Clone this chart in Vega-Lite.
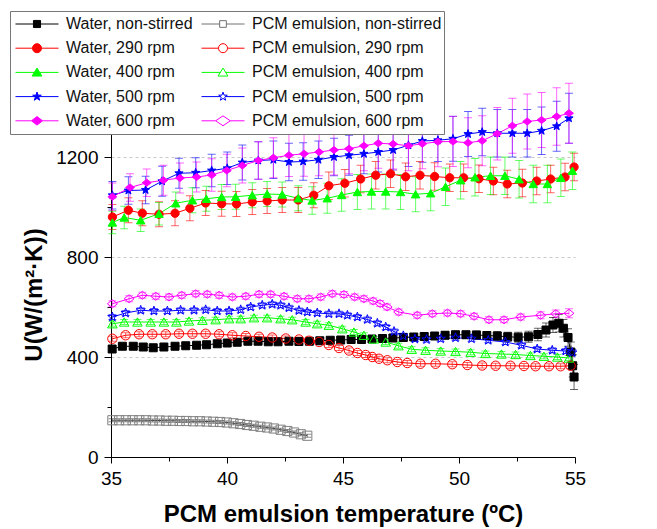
{
"$schema": "https://vega.github.io/schema/vega-lite/v6.json",
"width": 464, "height": 325,
"autosize": {"type": "none"},
"padding": {"left": 111, "top": 132, "right": 82, "bottom": 72},
"background": "white",
"config": {"view": {"stroke": null}, "font": "Liberation Sans"},
"data": {"values": [
{"s":"Water, non-stirred","T":35.05,"U":432,"e":8},{"s":"Water, non-stirred","T":35.49,"U":443,"e":8},{"s":"Water, non-stirred","T":35.96,"U":443,"e":8},{"s":"Water, non-stirred","T":36.39,"U":440,"e":8},{"s":"Water, non-stirred","T":36.82,"U":437,"e":8},{"s":"Water, non-stirred","T":37.28,"U":440,"e":8},{"s":"Water, non-stirred","T":37.76,"U":443,"e":8},{"s":"Water, non-stirred","T":38.22,"U":445,"e":8},{"s":"Water, non-stirred","T":38.69,"U":447,"e":8},{"s":"Water, non-stirred","T":39.12,"U":449,"e":8},{"s":"Water, non-stirred","T":39.58,"U":453,"e":8},{"s":"Water, non-stirred","T":40.01,"U":456,"e":8},{"s":"Water, non-stirred","T":40.44,"U":459,"e":8},{"s":"Water, non-stirred","T":40.9,"U":463,"e":8},{"s":"Water, non-stirred","T":41.34,"U":463,"e":8},{"s":"Water, non-stirred","T":41.78,"U":461,"e":8},{"s":"Water, non-stirred","T":42.2,"U":461,"e":8},{"s":"Water, non-stirred","T":42.67,"U":463,"e":8},{"s":"Water, non-stirred","T":43.1,"U":462,"e":8},{"s":"Water, non-stirred","T":43.55,"U":463,"e":8},{"s":"Water, non-stirred","T":44.0,"U":465,"e":8},{"s":"Water, non-stirred","T":44.45,"U":467,"e":8},{"s":"Water, non-stirred","T":44.9,"U":468,"e":8},{"s":"Water, non-stirred","T":45.35,"U":470,"e":10},{"s":"Water, non-stirred","T":45.8,"U":470,"e":10},{"s":"Water, non-stirred","T":46.25,"U":472,"e":10},{"s":"Water, non-stirred","T":46.7,"U":474,"e":10},{"s":"Water, non-stirred","T":47.15,"U":476,"e":12},{"s":"Water, non-stirred","T":47.6,"U":478,"e":12},{"s":"Water, non-stirred","T":48.05,"U":480,"e":12},{"s":"Water, non-stirred","T":48.5,"U":482,"e":12},{"s":"Water, non-stirred","T":48.95,"U":484,"e":12},{"s":"Water, non-stirred","T":49.4,"U":487,"e":14},{"s":"Water, non-stirred","T":49.85,"U":489,"e":14},{"s":"Water, non-stirred","T":50.3,"U":489,"e":14},{"s":"Water, non-stirred","T":50.75,"U":488,"e":16},{"s":"Water, non-stirred","T":51.2,"U":486,"e":16},{"s":"Water, non-stirred","T":51.65,"U":484,"e":18},{"s":"Water, non-stirred","T":52.1,"U":481,"e":18},{"s":"Water, non-stirred","T":52.55,"U":479,"e":20},{"s":"Water, non-stirred","T":53.0,"U":481,"e":22},{"s":"Water, non-stirred","T":53.4,"U":490,"e":25},{"s":"Water, non-stirred","T":53.75,"U":508,"e":28},{"s":"Water, non-stirred","T":54.05,"U":528,"e":30},{"s":"Water, non-stirred","T":54.3,"U":535,"e":35},{"s":"Water, non-stirred","T":54.5,"U":515,"e":35},{"s":"Water, non-stirred","T":54.7,"U":478,"e":35},{"s":"Water, non-stirred","T":54.82,"U":420,"e":40},{"s":"Water, non-stirred","T":54.9,"U":365,"e":45},{"s":"Water, non-stirred","T":54.96,"U":320,"e":50},
{"s":"Water, 290 rpm","T":35.06,"U":960,"e":50},{"s":"Water, 290 rpm","T":35.75,"U":987,"e":50},{"s":"Water, 290 rpm","T":36.35,"U":975,"e":50},{"s":"Water, 290 rpm","T":37.07,"U":971,"e":50},{"s":"Water, 290 rpm","T":37.76,"U":975,"e":50},{"s":"Water, 290 rpm","T":38.4,"U":995,"e":50},{"s":"Water, 290 rpm","T":39.08,"U":1016,"e":50},{"s":"Water, 290 rpm","T":39.77,"U":1013,"e":50},{"s":"Water, 290 rpm","T":40.41,"U":1012,"e":50},{"s":"Water, 290 rpm","T":41.09,"U":1020,"e":50},{"s":"Water, 290 rpm","T":41.73,"U":1024,"e":50},{"s":"Water, 290 rpm","T":42.38,"U":1028,"e":50},{"s":"Water, 290 rpm","T":43.07,"U":1028,"e":50},{"s":"Water, 290 rpm","T":43.74,"U":1047,"e":50},{"s":"Water, 290 rpm","T":44.39,"U":1085,"e":55},{"s":"Water, 290 rpm","T":45.08,"U":1095,"e":55},{"s":"Water, 290 rpm","T":45.76,"U":1112,"e":55},{"s":"Water, 290 rpm","T":46.41,"U":1127,"e":55},{"s":"Water, 290 rpm","T":47.05,"U":1133,"e":55},{"s":"Water, 290 rpm","T":47.7,"U":1121,"e":55},{"s":"Water, 290 rpm","T":48.32,"U":1127,"e":55},{"s":"Water, 290 rpm","T":48.95,"U":1122,"e":55},{"s":"Water, 290 rpm","T":49.6,"U":1117,"e":55},{"s":"Water, 290 rpm","T":50.2,"U":1117,"e":55},{"s":"Water, 290 rpm","T":50.86,"U":1113,"e":55},{"s":"Water, 290 rpm","T":51.48,"U":1104,"e":55},{"s":"Water, 290 rpm","T":52.08,"U":1092,"e":55},{"s":"Water, 290 rpm","T":52.73,"U":1096,"e":55},{"s":"Water, 290 rpm","T":53.35,"U":1104,"e":55},{"s":"Water, 290 rpm","T":53.95,"U":1112,"e":55},{"s":"Water, 290 rpm","T":54.57,"U":1120,"e":55},{"s":"Water, 290 rpm","T":54.96,"U":1160,"e":55},
{"s":"Water, 400 rpm","T":35.06,"U":938,"e":45},{"s":"Water, 400 rpm","T":35.57,"U":958,"e":45},{"s":"Water, 400 rpm","T":36.28,"U":947,"e":45},{"s":"Water, 400 rpm","T":37.07,"U":973,"e":45},{"s":"Water, 400 rpm","T":37.79,"U":1015,"e":45},{"s":"Water, 400 rpm","T":38.51,"U":1027,"e":50},{"s":"Water, 400 rpm","T":39.11,"U":1033,"e":50},{"s":"Water, 400 rpm","T":39.77,"U":1040,"e":50},{"s":"Water, 400 rpm","T":40.37,"U":1041,"e":50},{"s":"Water, 400 rpm","T":41.09,"U":1047,"e":50},{"s":"Water, 400 rpm","T":41.73,"U":1052,"e":50},{"s":"Water, 400 rpm","T":42.38,"U":1050,"e":50},{"s":"Water, 400 rpm","T":43.07,"U":1035,"e":50},{"s":"Water, 400 rpm","T":43.67,"U":1026,"e":55},{"s":"Water, 400 rpm","T":44.32,"U":1035,"e":60},{"s":"Water, 400 rpm","T":44.94,"U":1048,"e":65},{"s":"Water, 400 rpm","T":45.62,"U":1060,"e":70},{"s":"Water, 400 rpm","T":46.23,"U":1062,"e":70},{"s":"Water, 400 rpm","T":46.84,"U":1062,"e":70},{"s":"Water, 400 rpm","T":47.48,"U":1060,"e":70},{"s":"Water, 400 rpm","T":48.13,"U":1051,"e":70},{"s":"Water, 400 rpm","T":48.78,"U":1055,"e":70},{"s":"Water, 400 rpm","T":49.42,"U":1081,"e":75},{"s":"Water, 400 rpm","T":50.07,"U":1107,"e":75},{"s":"Water, 400 rpm","T":50.69,"U":1119,"e":75},{"s":"Water, 400 rpm","T":51.36,"U":1125,"e":75},{"s":"Water, 400 rpm","T":51.98,"U":1125,"e":75},{"s":"Water, 400 rpm","T":52.59,"U":1111,"e":75},{"s":"Water, 400 rpm","T":53.2,"U":1092,"e":75},{"s":"Water, 400 rpm","T":53.81,"U":1092,"e":75},{"s":"Water, 400 rpm","T":54.39,"U":1117,"e":75},{"s":"Water, 400 rpm","T":54.89,"U":1145,"e":75},
{"s":"Water, 500 rpm","T":35.06,"U":1047,"e":55},{"s":"Water, 500 rpm","T":35.75,"U":1066,"e":55},{"s":"Water, 500 rpm","T":36.49,"U":1068,"e":55},{"s":"Water, 500 rpm","T":37.2,"U":1103,"e":60},{"s":"Water, 500 rpm","T":37.93,"U":1135,"e":60},{"s":"Water, 500 rpm","T":38.65,"U":1137,"e":60},{"s":"Water, 500 rpm","T":39.34,"U":1146,"e":65},{"s":"Water, 500 rpm","T":40.01,"U":1155,"e":65},{"s":"Water, 500 rpm","T":40.66,"U":1178,"e":70},{"s":"Water, 500 rpm","T":41.35,"U":1186,"e":75},{"s":"Water, 500 rpm","T":42.0,"U":1189,"e":75},{"s":"Water, 500 rpm","T":42.67,"U":1180,"e":75},{"s":"Water, 500 rpm","T":43.28,"U":1182,"e":75},{"s":"Water, 500 rpm","T":43.94,"U":1189,"e":75},{"s":"Water, 500 rpm","T":44.61,"U":1200,"e":75},{"s":"Water, 500 rpm","T":45.26,"U":1207,"e":80},{"s":"Water, 500 rpm","T":45.9,"U":1213,"e":80},{"s":"Water, 500 rpm","T":46.52,"U":1220,"e":80},{"s":"Water, 500 rpm","T":47.16,"U":1228,"e":80},{"s":"Water, 500 rpm","T":47.82,"U":1247,"e":85},{"s":"Water, 500 rpm","T":48.42,"U":1264,"e":85},{"s":"Water, 500 rpm","T":49.09,"U":1267,"e":85},{"s":"Water, 500 rpm","T":49.74,"U":1273,"e":90},{"s":"Water, 500 rpm","T":50.39,"U":1292,"e":90},{"s":"Water, 500 rpm","T":51.0,"U":1300,"e":95},{"s":"Water, 500 rpm","T":51.65,"U":1295,"e":95},{"s":"Water, 500 rpm","T":52.3,"U":1295,"e":95},{"s":"Water, 500 rpm","T":52.94,"U":1295,"e":95},{"s":"Water, 500 rpm","T":53.56,"U":1305,"e":95},{"s":"Water, 500 rpm","T":54.21,"U":1323,"e":100},{"s":"Water, 500 rpm","T":54.74,"U":1355,"e":100},
{"s":"Water, 600 rpm","T":35.06,"U":1041,"e":55},{"s":"Water, 600 rpm","T":35.82,"U":1078,"e":55},{"s":"Water, 600 rpm","T":36.54,"U":1097,"e":55},{"s":"Water, 600 rpm","T":37.26,"U":1107,"e":60},{"s":"Water, 600 rpm","T":37.97,"U":1116,"e":60},{"s":"Water, 600 rpm","T":38.69,"U":1120,"e":60},{"s":"Water, 600 rpm","T":39.34,"U":1128,"e":65},{"s":"Water, 600 rpm","T":39.99,"U":1146,"e":65},{"s":"Water, 600 rpm","T":40.66,"U":1166,"e":70},{"s":"Water, 600 rpm","T":41.35,"U":1186,"e":75},{"s":"Water, 600 rpm","T":42.0,"U":1197,"e":80},{"s":"Water, 600 rpm","T":42.67,"U":1207,"e":85},{"s":"Water, 600 rpm","T":43.32,"U":1213,"e":90},{"s":"Water, 600 rpm","T":43.97,"U":1220,"e":95},{"s":"Water, 600 rpm","T":44.61,"U":1228,"e":100},{"s":"Water, 600 rpm","T":45.26,"U":1233,"e":100},{"s":"Water, 600 rpm","T":45.9,"U":1245,"e":100},{"s":"Water, 600 rpm","T":46.52,"U":1255,"e":100},{"s":"Water, 600 rpm","T":47.16,"U":1252,"e":100},{"s":"Water, 600 rpm","T":47.82,"U":1245,"e":100},{"s":"Water, 600 rpm","T":48.42,"U":1253,"e":100},{"s":"Water, 600 rpm","T":49.09,"U":1261,"e":100},{"s":"Water, 600 rpm","T":49.74,"U":1262,"e":100},{"s":"Water, 600 rpm","T":50.39,"U":1257,"e":100},{"s":"Water, 600 rpm","T":51.0,"U":1265,"e":100},{"s":"Water, 600 rpm","T":51.65,"U":1293,"e":105},{"s":"Water, 600 rpm","T":52.3,"U":1325,"e":110},{"s":"Water, 600 rpm","T":52.94,"U":1342,"e":110},{"s":"Water, 600 rpm","T":53.56,"U":1348,"e":110},{"s":"Water, 600 rpm","T":54.21,"U":1362,"e":115},{"s":"Water, 600 rpm","T":54.74,"U":1375,"e":120},
{"s":"PCM emulsion, non-stirred","T":35.06,"U":147,"e":6},{"s":"PCM emulsion, non-stirred","T":35.35,"U":147,"e":6},{"s":"PCM emulsion, non-stirred","T":35.64,"U":147,"e":6},{"s":"PCM emulsion, non-stirred","T":35.93,"U":147,"e":6},{"s":"PCM emulsion, non-stirred","T":36.22,"U":147,"e":6},{"s":"PCM emulsion, non-stirred","T":36.51,"U":147,"e":6},{"s":"PCM emulsion, non-stirred","T":36.8,"U":146,"e":6},{"s":"PCM emulsion, non-stirred","T":37.09,"U":146,"e":6},{"s":"PCM emulsion, non-stirred","T":37.38,"U":145,"e":6},{"s":"PCM emulsion, non-stirred","T":37.67,"U":145,"e":6},{"s":"PCM emulsion, non-stirred","T":37.96,"U":144,"e":6},{"s":"PCM emulsion, non-stirred","T":38.25,"U":144,"e":6},{"s":"PCM emulsion, non-stirred","T":38.54,"U":143,"e":6},{"s":"PCM emulsion, non-stirred","T":38.83,"U":143,"e":6},{"s":"PCM emulsion, non-stirred","T":39.12,"U":142,"e":6},{"s":"PCM emulsion, non-stirred","T":39.41,"U":141,"e":6},{"s":"PCM emulsion, non-stirred","T":39.7,"U":140,"e":6},{"s":"PCM emulsion, non-stirred","T":39.99,"U":138,"e":6},{"s":"PCM emulsion, non-stirred","T":40.28,"U":135,"e":6},{"s":"PCM emulsion, non-stirred","T":40.57,"U":132,"e":6},{"s":"PCM emulsion, non-stirred","T":40.86,"U":128,"e":6},{"s":"PCM emulsion, non-stirred","T":41.15,"U":125,"e":6},{"s":"PCM emulsion, non-stirred","T":41.44,"U":121,"e":6},{"s":"PCM emulsion, non-stirred","T":41.73,"U":118,"e":6},{"s":"PCM emulsion, non-stirred","T":42.02,"U":114,"e":6},{"s":"PCM emulsion, non-stirred","T":42.31,"U":109,"e":6},{"s":"PCM emulsion, non-stirred","T":42.6,"U":104,"e":6},{"s":"PCM emulsion, non-stirred","T":42.89,"U":98,"e":6},{"s":"PCM emulsion, non-stirred","T":43.18,"U":91,"e":6},{"s":"PCM emulsion, non-stirred","T":43.46,"U":85,"e":6},
{"s":"PCM emulsion, 290 rpm","T":35.06,"U":473,"e":10},{"s":"PCM emulsion, 290 rpm","T":35.63,"U":487,"e":10},{"s":"PCM emulsion, 290 rpm","T":36.21,"U":491,"e":10},{"s":"PCM emulsion, 290 rpm","T":36.78,"U":491,"e":10},{"s":"PCM emulsion, 290 rpm","T":37.36,"U":491,"e":10},{"s":"PCM emulsion, 290 rpm","T":37.93,"U":493,"e":10},{"s":"PCM emulsion, 290 rpm","T":38.51,"U":493,"e":10},{"s":"PCM emulsion, 290 rpm","T":39.08,"U":493,"e":10},{"s":"PCM emulsion, 290 rpm","T":39.66,"U":491,"e":10},{"s":"PCM emulsion, 290 rpm","T":40.23,"U":487,"e":10},{"s":"PCM emulsion, 290 rpm","T":40.81,"U":484,"e":10},{"s":"PCM emulsion, 290 rpm","T":41.38,"U":481,"e":10},{"s":"PCM emulsion, 290 rpm","T":41.95,"U":478,"e":10},{"s":"PCM emulsion, 290 rpm","T":42.53,"U":474,"e":10},{"s":"PCM emulsion, 290 rpm","T":43.1,"U":470,"e":10},{"s":"PCM emulsion, 290 rpm","T":43.53,"U":465,"e":10},{"s":"PCM emulsion, 290 rpm","T":43.97,"U":460,"e":10},{"s":"PCM emulsion, 290 rpm","T":44.39,"U":448,"e":10},{"s":"PCM emulsion, 290 rpm","T":44.83,"U":436,"e":10},{"s":"PCM emulsion, 290 rpm","T":45.26,"U":426,"e":10},{"s":"PCM emulsion, 290 rpm","T":45.62,"U":416,"e":10},{"s":"PCM emulsion, 290 rpm","T":45.98,"U":408,"e":10},{"s":"PCM emulsion, 290 rpm","T":46.26,"U":400,"e":10},{"s":"PCM emulsion, 290 rpm","T":46.55,"U":393,"e":10},{"s":"PCM emulsion, 290 rpm","T":46.91,"U":387,"e":10},{"s":"PCM emulsion, 290 rpm","T":47.34,"U":380,"e":10},{"s":"PCM emulsion, 290 rpm","T":47.77,"U":376,"e":10},{"s":"PCM emulsion, 290 rpm","T":48.34,"U":373,"e":10},{"s":"PCM emulsion, 290 rpm","T":48.99,"U":373,"e":10},{"s":"PCM emulsion, 290 rpm","T":49.71,"U":371,"e":10},{"s":"PCM emulsion, 290 rpm","T":50.36,"U":368,"e":10},{"s":"PCM emulsion, 290 rpm","T":51.0,"U":366,"e":10},{"s":"PCM emulsion, 290 rpm","T":51.58,"U":365,"e":10},{"s":"PCM emulsion, 290 rpm","T":52.22,"U":365,"e":10},{"s":"PCM emulsion, 290 rpm","T":52.8,"U":364,"e":10},{"s":"PCM emulsion, 290 rpm","T":53.3,"U":363,"e":10},{"s":"PCM emulsion, 290 rpm","T":53.88,"U":363,"e":10},{"s":"PCM emulsion, 290 rpm","T":54.38,"U":363,"e":10},{"s":"PCM emulsion, 290 rpm","T":54.81,"U":365,"e":12},
{"s":"PCM emulsion, 400 rpm","T":35.06,"U":533,"e":10},{"s":"PCM emulsion, 400 rpm","T":35.57,"U":540,"e":10},{"s":"PCM emulsion, 400 rpm","T":36.14,"U":540,"e":10},{"s":"PCM emulsion, 400 rpm","T":36.71,"U":540,"e":10},{"s":"PCM emulsion, 400 rpm","T":37.28,"U":540,"e":10},{"s":"PCM emulsion, 400 rpm","T":37.82,"U":540,"e":10},{"s":"PCM emulsion, 400 rpm","T":38.36,"U":544,"e":10},{"s":"PCM emulsion, 400 rpm","T":38.94,"U":547,"e":10},{"s":"PCM emulsion, 400 rpm","T":39.51,"U":549,"e":10},{"s":"PCM emulsion, 400 rpm","T":40.09,"U":553,"e":10},{"s":"PCM emulsion, 400 rpm","T":40.59,"U":553,"e":10},{"s":"PCM emulsion, 400 rpm","T":41.16,"U":557,"e":10},{"s":"PCM emulsion, 400 rpm","T":41.73,"U":557,"e":10},{"s":"PCM emulsion, 400 rpm","T":42.31,"U":553,"e":10},{"s":"PCM emulsion, 400 rpm","T":42.81,"U":549,"e":10},{"s":"PCM emulsion, 400 rpm","T":43.39,"U":540,"e":10},{"s":"PCM emulsion, 400 rpm","T":43.89,"U":533,"e":10},{"s":"PCM emulsion, 400 rpm","T":44.39,"U":527,"e":10},{"s":"PCM emulsion, 400 rpm","T":44.97,"U":513,"e":10},{"s":"PCM emulsion, 400 rpm","T":45.47,"U":500,"e":10},{"s":"PCM emulsion, 400 rpm","T":45.9,"U":487,"e":10},{"s":"PCM emulsion, 400 rpm","T":46.33,"U":472,"e":10},{"s":"PCM emulsion, 400 rpm","T":46.84,"U":460,"e":10},{"s":"PCM emulsion, 400 rpm","T":47.39,"U":445,"e":10},{"s":"PCM emulsion, 400 rpm","T":47.96,"U":431,"e":10},{"s":"PCM emulsion, 400 rpm","T":48.56,"U":427,"e":10},{"s":"PCM emulsion, 400 rpm","T":49.21,"U":424,"e":10},{"s":"PCM emulsion, 400 rpm","T":49.85,"U":422,"e":10},{"s":"PCM emulsion, 400 rpm","T":50.5,"U":419,"e":10},{"s":"PCM emulsion, 400 rpm","T":51.14,"U":414,"e":10},{"s":"PCM emulsion, 400 rpm","T":51.83,"U":412,"e":10},{"s":"PCM emulsion, 400 rpm","T":52.44,"U":410,"e":10},{"s":"PCM emulsion, 400 rpm","T":53.08,"U":406,"e":10},{"s":"PCM emulsion, 400 rpm","T":53.66,"U":403,"e":10},{"s":"PCM emulsion, 400 rpm","T":54.24,"U":400,"e":10},{"s":"PCM emulsion, 400 rpm","T":54.74,"U":396,"e":10},
{"s":"PCM emulsion, 500 rpm","T":35.06,"U":560,"e":10},{"s":"PCM emulsion, 500 rpm","T":35.63,"U":576,"e":10},{"s":"PCM emulsion, 500 rpm","T":36.28,"U":587,"e":10},{"s":"PCM emulsion, 500 rpm","T":36.85,"U":584,"e":10},{"s":"PCM emulsion, 500 rpm","T":37.43,"U":584,"e":10},{"s":"PCM emulsion, 500 rpm","T":38.0,"U":587,"e":10},{"s":"PCM emulsion, 500 rpm","T":38.58,"U":587,"e":10},{"s":"PCM emulsion, 500 rpm","T":39.08,"U":589,"e":10},{"s":"PCM emulsion, 500 rpm","T":39.58,"U":584,"e":10},{"s":"PCM emulsion, 500 rpm","T":40.09,"U":584,"e":10},{"s":"PCM emulsion, 500 rpm","T":40.59,"U":589,"e":10},{"s":"PCM emulsion, 500 rpm","T":41.02,"U":600,"e":10},{"s":"PCM emulsion, 500 rpm","T":41.52,"U":607,"e":10},{"s":"PCM emulsion, 500 rpm","T":41.95,"U":611,"e":10},{"s":"PCM emulsion, 500 rpm","T":42.31,"U":607,"e":10},{"s":"PCM emulsion, 500 rpm","T":42.67,"U":597,"e":10},{"s":"PCM emulsion, 500 rpm","T":43.1,"U":586,"e":10},{"s":"PCM emulsion, 500 rpm","T":43.46,"U":580,"e":10},{"s":"PCM emulsion, 500 rpm","T":43.89,"U":576,"e":10},{"s":"PCM emulsion, 500 rpm","T":44.39,"U":573,"e":10},{"s":"PCM emulsion, 500 rpm","T":44.83,"U":573,"e":10},{"s":"PCM emulsion, 500 rpm","T":45.19,"U":567,"e":10},{"s":"PCM emulsion, 500 rpm","T":45.62,"U":560,"e":10},{"s":"PCM emulsion, 500 rpm","T":46.05,"U":550,"e":10},{"s":"PCM emulsion, 500 rpm","T":46.48,"U":535,"e":10},{"s":"PCM emulsion, 500 rpm","T":46.84,"U":520,"e":10},{"s":"PCM emulsion, 500 rpm","T":47.2,"U":502,"e":10},{"s":"PCM emulsion, 500 rpm","T":47.6,"U":485,"e":10},{"s":"PCM emulsion, 500 rpm","T":48.1,"U":472,"e":10},{"s":"PCM emulsion, 500 rpm","T":48.6,"U":470,"e":10},{"s":"PCM emulsion, 500 rpm","T":49.21,"U":473,"e":10},{"s":"PCM emulsion, 500 rpm","T":49.85,"U":477,"e":10},{"s":"PCM emulsion, 500 rpm","T":50.54,"U":473,"e":10},{"s":"PCM emulsion, 500 rpm","T":51.26,"U":467,"e":10},{"s":"PCM emulsion, 500 rpm","T":52.0,"U":460,"e":10},{"s":"PCM emulsion, 500 rpm","T":52.69,"U":447,"e":10},{"s":"PCM emulsion, 500 rpm","T":53.37,"U":432,"e":10},{"s":"PCM emulsion, 500 rpm","T":54.02,"U":427,"e":10},{"s":"PCM emulsion, 500 rpm","T":54.6,"U":424,"e":10},{"s":"PCM emulsion, 500 rpm","T":54.88,"U":418,"e":12},
{"s":"PCM emulsion, 600 rpm","T":35.06,"U":613,"e":12},{"s":"PCM emulsion, 600 rpm","T":35.78,"U":633,"e":12},{"s":"PCM emulsion, 600 rpm","T":36.35,"U":647,"e":12},{"s":"PCM emulsion, 600 rpm","T":36.93,"U":643,"e":12},{"s":"PCM emulsion, 600 rpm","T":37.5,"U":640,"e":12},{"s":"PCM emulsion, 600 rpm","T":38.05,"U":647,"e":12},{"s":"PCM emulsion, 600 rpm","T":38.65,"U":653,"e":12},{"s":"PCM emulsion, 600 rpm","T":39.15,"U":651,"e":12},{"s":"PCM emulsion, 600 rpm","T":39.66,"U":647,"e":12},{"s":"PCM emulsion, 600 rpm","T":40.23,"U":640,"e":12},{"s":"PCM emulsion, 600 rpm","T":40.81,"U":643,"e":12},{"s":"PCM emulsion, 600 rpm","T":41.38,"U":651,"e":12},{"s":"PCM emulsion, 600 rpm","T":41.88,"U":651,"e":12},{"s":"PCM emulsion, 600 rpm","T":42.46,"U":643,"e":12},{"s":"PCM emulsion, 600 rpm","T":43.03,"U":633,"e":12},{"s":"PCM emulsion, 600 rpm","T":43.53,"U":633,"e":12},{"s":"PCM emulsion, 600 rpm","T":44.04,"U":640,"e":12},{"s":"PCM emulsion, 600 rpm","T":44.54,"U":653,"e":12},{"s":"PCM emulsion, 600 rpm","T":45.04,"U":650,"e":12},{"s":"PCM emulsion, 600 rpm","T":45.5,"U":640,"e":12},{"s":"PCM emulsion, 600 rpm","T":45.9,"U":633,"e":12},{"s":"PCM emulsion, 600 rpm","T":46.3,"U":624,"e":12},{"s":"PCM emulsion, 600 rpm","T":46.6,"U":614,"e":12},{"s":"PCM emulsion, 600 rpm","T":46.9,"U":600,"e":12},{"s":"PCM emulsion, 600 rpm","T":47.4,"U":580,"e":12},{"s":"PCM emulsion, 600 rpm","T":48.2,"U":567,"e":12},{"s":"PCM emulsion, 600 rpm","T":48.85,"U":573,"e":12},{"s":"PCM emulsion, 600 rpm","T":49.5,"U":576,"e":12},{"s":"PCM emulsion, 600 rpm","T":50.07,"U":573,"e":12},{"s":"PCM emulsion, 600 rpm","T":50.65,"U":563,"e":12},{"s":"PCM emulsion, 600 rpm","T":51.29,"U":549,"e":12},{"s":"PCM emulsion, 600 rpm","T":51.94,"U":549,"e":12},{"s":"PCM emulsion, 600 rpm","T":52.66,"U":560,"e":12},{"s":"PCM emulsion, 600 rpm","T":53.52,"U":567,"e":14},{"s":"PCM emulsion, 600 rpm","T":54.17,"U":573,"e":15},{"s":"PCM emulsion, 600 rpm","T":54.74,"U":575,"e":18}
]},
"encoding": {
  "x": {"field": "T", "type": "quantitative", "title": "PCM emulsion temperature (ºC)",
    "scale": {"domain": [35, 55], "nice": false, "zero": false},
    "axis": {"values": [35, 37.5, 40, 42.5, 45, 47.5, 50, 52.5, 55], "format": "d",
      "labelExpr": "datum.value % 5 === 0 ? datum.label : ''",
      "tickSize": {"condition": {"test": "datum.value % 5 === 0", "value": 6}, "value": 4},
      "grid": false, "domainColor": "#000000", "tickColor": "#000000", "labelColor": "#000000",
      "labelFont": "Liberation Sans", "labelFontSize": 19, "labelPadding": 6, "labelFlush": false, "labelOverlap": false,
      "titleFont": "Liberation Sans", "titleFontSize": 24, "titleFontWeight": "bold", "titleColor": "#000000", "titlePadding": 14}},
  "y": {"field": "U", "type": "quantitative", "title": "U(W/(m²·K))",
    "scale": {"domain": [0, 1300], "nice": false, "zero": false},
    "axis": {"values": [0, 200, 400, 600, 800, 1000, 1200], "format": "d",
      "labelExpr": "datum.value % 400 === 0 ? datum.label : ''",
      "tickSize": {"condition": {"test": "datum.value % 400 === 0", "value": 7}, "value": 4},
      "grid": true, "gridColor": "#c8c8c8", "gridDash": [3, 3],
      "gridOpacity": {"condition": {"test": "datum.value % 400 === 0 && datum.value > 0", "value": 1}, "value": 0},
      "domainColor": "#000000", "tickColor": "#000000", "labelColor": "#000000",
      "labelFont": "Liberation Sans", "labelFontSize": 19, "labelPadding": 6, "labelOverlap": false,
      "titleFont": "Liberation Sans", "titleFontSize": 24, "titleFontWeight": "bold", "titleColor": "#000000", "titlePadding": 9}}
},
"resolve": {"scale": {"shape": "independent", "stroke": "independent", "fill": "independent"}},
"layer": [
  {"mark": {"type": "errorbar", "ticks": {"size": 8}, "thickness": 1, "opacity": 0.6},
   "encoding": {"yError": {"field": "e"},
     "color": {"field": "s", "type": "nominal", "legend": null,
       "scale": {"domain": ["Water, non-stirred","Water, 290 rpm","Water, 400 rpm","Water, 500 rpm","Water, 600 rpm","PCM emulsion, non-stirred","PCM emulsion, 290 rpm","PCM emulsion, 400 rpm","PCM emulsion, 500 rpm","PCM emulsion, 600 rpm"],
                 "range": ["#000000","#ff0000","#00ff00","#0000ff","#ff00ff","#404040","#ff0000","#00ff00","#0000ff","#ff00ff"]}}}},
  {"mark": {"type": "line", "strokeWidth": 1},
   "encoding": {
     "color": {"field": "s", "type": "nominal", "legend": null,
       "scale": {"domain": ["Water, non-stirred","Water, 290 rpm","Water, 400 rpm","Water, 500 rpm","Water, 600 rpm","PCM emulsion, non-stirred","PCM emulsion, 290 rpm","PCM emulsion, 400 rpm","PCM emulsion, 500 rpm","PCM emulsion, 600 rpm"],
                 "range": ["#000000","#ff0000","#00ff00","#0000ff","#ff00ff","#404040","#ff0000","#00ff00","#0000ff","#ff00ff"]}}}},
  {"mark": {"type": "point", "opacity": 1, "strokeWidth": 1},
   "encoding": {
     "shape": {"field": "s", "type": "nominal", "legend": null,
       "scale": {"domain": ["Water, non-stirred","Water, 290 rpm","Water, 400 rpm","Water, 500 rpm","Water, 600 rpm","PCM emulsion, non-stirred","PCM emulsion, 290 rpm","PCM emulsion, 400 rpm","PCM emulsion, 500 rpm","PCM emulsion, 600 rpm"],
                 "range": ["square","circle","triangle-up",
                   "M0,-1L0.235,-0.324L0.951,-0.309L0.38,0.124L0.588,0.809L0,0.4L-0.588,0.809L-0.38,0.124L-0.951,-0.309L-0.235,-0.324Z",
                   "M-1,0L0,-0.8L1,0L0,0.8Z",
                   "square","circle","triangle-up",
                   "M0,-1L0.235,-0.324L0.951,-0.309L0.38,0.124L0.588,0.809L0,0.4L-0.588,0.809L-0.38,0.124L-0.951,-0.309L-0.235,-0.324Z",
                   "M-1,0L0,-0.8L1,0L0,0.8Z"]}},
     "size": {"field": "s", "type": "nominal", "legend": null,
       "scale": {"domain": ["Water, non-stirred","Water, 290 rpm","Water, 400 rpm","Water, 500 rpm","Water, 600 rpm","PCM emulsion, non-stirred","PCM emulsion, 290 rpm","PCM emulsion, 400 rpm","PCM emulsion, 500 rpm","PCM emulsion, 600 rpm"],
                 "range": [64, 100, 121, 110, 130, 36, 70, 90, 75, 170]}},
     "stroke": {"field": "s", "type": "nominal", "legend": null,
       "scale": {"domain": ["Water, non-stirred","Water, 290 rpm","Water, 400 rpm","Water, 500 rpm","Water, 600 rpm","PCM emulsion, non-stirred","PCM emulsion, 290 rpm","PCM emulsion, 400 rpm","PCM emulsion, 500 rpm","PCM emulsion, 600 rpm"],
                 "range": ["#000000","#ff0000","#00ff00","#0000ff","#ff00ff","#808080","#ff0000","#00ff00","#0000ff","#ff00ff"]}},
     "fill": {"field": "s", "type": "nominal", "legend": null,
       "scale": {"domain": ["Water, non-stirred","Water, 290 rpm","Water, 400 rpm","Water, 500 rpm","Water, 600 rpm","PCM emulsion, non-stirred","PCM emulsion, 290 rpm","PCM emulsion, 400 rpm","PCM emulsion, 500 rpm","PCM emulsion, 600 rpm"],
                 "range": ["#000000","#ff0000","#00ff00","#0000ff","#ff00ff","transparent","transparent","transparent","transparent","transparent"]}}}},
  {"transform": [{"filter": "datum.U < 0"}],
   "mark": {"type": "point", "opacity": 1, "strokeWidth": 1},
   "encoding": {
     "shape": {"field": "s", "type": "nominal",
       "scale": {"domain": ["Water, non-stirred","Water, 290 rpm","Water, 400 rpm","Water, 500 rpm","Water, 600 rpm","PCM emulsion, non-stirred","PCM emulsion, 290 rpm","PCM emulsion, 400 rpm","PCM emulsion, 500 rpm","PCM emulsion, 600 rpm"],
                 "range": ["M-1,0H-0.165M0.165,0H1M-0.165,-0.165H0.165V0.165H-0.165Z",
                   "M-1,0H-0.21M0.21,0H1M-0.21,0A0.21,0.21,0,1,1,0.21,0A0.21,0.21,0,1,1,-0.21,0Z",
                   "M-1,0H-0.124M0.124,0H1M0,-0.2L0.23,0.17L-0.23,0.17Z",
                   "M-1,0H-0.114M0.114,0H1M0,-0.21L0.049,-0.068L0.2,-0.065L0.08,0.026L0.123,0.17L0,0.084L-0.123,0.17L-0.08,0.026L-0.2,-0.065L-0.049,-0.068Z",
                   "M-1,0H-0.26M0.26,0H1M-0.26,0L0,-0.2L0.26,0L0,0.2Z",
                   "M-1,0H-0.155M0.155,0H1M-0.155,-0.155H0.155V0.155H-0.155Z",
                   "M-1,0H-0.21M0.21,0H1M-0.21,0A0.21,0.21,0,1,1,0.21,0A0.21,0.21,0,1,1,-0.21,0Z",
                   "M-1,0H-0.124M0.124,0H1M0,-0.2L0.23,0.17L-0.23,0.17Z",
                   "M-1,0H-0.114M0.114,0H1M0,-0.21L0.049,-0.068L0.2,-0.065L0.08,0.026L0.123,0.17L0,0.084L-0.123,0.17L-0.08,0.026L-0.2,-0.065L-0.049,-0.068Z",
                   "M-1,0H-0.34M0.34,0H1M-0.34,0L0,-0.23L0.34,0L0,0.23Z"]},
       "legend": {"title": null, "orient": "none", "legendX": -101, "legendY": -121, "columns": 2, "columnPadding": 5, "rowPadding": 2.2, "clipHeight": 22, "padding": 2, "strokeColor": "#777777", "fillColor": "#ffffff", "symbolSize": 1849, "symbolStrokeWidth": 1, "symbolOffset": 3, "labelOffset": 7, "labelFont": "Liberation Sans", "labelFontSize": 16, "labelColor": "#111111", "labelLimit": 300, "symbolOpacity": 1}},
     "stroke": {"field": "s", "type": "nominal",
       "scale": {"domain": ["Water, non-stirred","Water, 290 rpm","Water, 400 rpm","Water, 500 rpm","Water, 600 rpm","PCM emulsion, non-stirred","PCM emulsion, 290 rpm","PCM emulsion, 400 rpm","PCM emulsion, 500 rpm","PCM emulsion, 600 rpm"],
                 "range": ["#000000","#ff0000","#00ff00","#0000ff","#ff00ff","#707070","#ff0000","#00ff00","#0000ff","#ff00ff"]},
       "legend": {"title": null, "orient": "none", "legendX": -101, "legendY": -121, "columns": 2, "columnPadding": 5, "rowPadding": 2.2, "clipHeight": 22, "padding": 2, "strokeColor": "#777777", "fillColor": "#ffffff", "symbolSize": 1849, "symbolStrokeWidth": 1, "symbolOffset": 3, "labelOffset": 7, "labelFont": "Liberation Sans", "labelFontSize": 16, "labelColor": "#111111", "labelLimit": 300, "symbolOpacity": 1}},
     "fill": {"field": "s", "type": "nominal",
       "scale": {"domain": ["Water, non-stirred","Water, 290 rpm","Water, 400 rpm","Water, 500 rpm","Water, 600 rpm","PCM emulsion, non-stirred","PCM emulsion, 290 rpm","PCM emulsion, 400 rpm","PCM emulsion, 500 rpm","PCM emulsion, 600 rpm"],
                 "range": ["#000000","#ff0000","#00ff00","#0000ff","#ff00ff","transparent","transparent","transparent","transparent","transparent"]},
       "legend": {"title": null, "orient": "none", "legendX": -101, "legendY": -121, "columns": 2, "columnPadding": 5, "rowPadding": 2.2, "clipHeight": 22, "padding": 2, "strokeColor": "#777777", "fillColor": "#ffffff", "symbolSize": 1849, "symbolStrokeWidth": 1, "symbolOffset": 3, "labelOffset": 7, "labelFont": "Liberation Sans", "labelFontSize": 16, "labelColor": "#111111", "labelLimit": 300, "symbolOpacity": 1}}}}
]
}
